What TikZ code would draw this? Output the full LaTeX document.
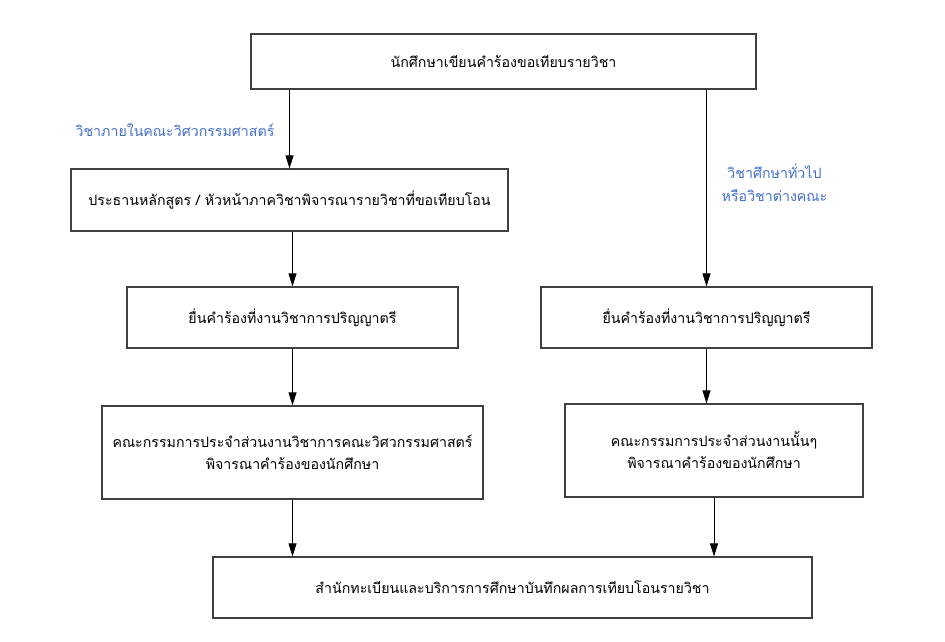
\documentclass[tikz,border=0pt]{standalone}
\usepackage{fontspec}
\newfontfamily\thaifont[Script=Thai]{Loma}
\usetikzlibrary{arrows.meta}
\definecolor{branchblue}{RGB}{68,110,205}
\tikzset{
  stepbox/.style={draw=black!75,line width=1.2pt,align=center,inner sep=2pt,
    font=\thaifont\fontsize{14.2}{22}\selectfont},
  flow/.style={draw=black,line width=0.8pt,-{Triangle[length=13pt,width=8pt]}},
  branch/.style={text=branchblue,align=center,
    font=\thaifont\fontsize{14.2}{23}\selectfont}
}
\begin{document}
\begin{tikzpicture}[x=1pt,y=-1pt]
\useasboundingbox (0,0) rectangle (945,642);
% boxes
\node[stepbox,minimum width=505pt,minimum height=55pt] (request) at (503.5,61.5) {นักศึกษาเขียนคำร้องขอเทียบรายวิชา};
\node[stepbox,minimum width=437pt,minimum height=62pt] (chair) at (289.5,200) {ประธานหลักสูตร / หัวหน้าภาควิชาพิจารณารายวิชาที่ขอเทียบโอน};
\node[stepbox,minimum width=331pt,minimum height=61pt] (submitL) at (292.5,317.5) {ยื่นคำร้องที่งานวิชาการปริญญาตรี};
\node[stepbox,minimum width=331pt,minimum height=61pt] (submitR) at (706.5,317.5) {ยื่นคำร้องที่งานวิชาการปริญญาตรี};
\node[stepbox,minimum width=381pt,minimum height=93pt] (boardL) at (292.5,452.5) {คณะกรรมการประจำส่วนงานวิชาการคณะวิศวกรรมศาสตร์\\พิจารณาคำร้องของนักศึกษา};
\node[stepbox,minimum width=298pt,minimum height=93pt] (boardR) at (714,450.5) {คณะกรรมการประจำส่วนงานนั้นๆ\\พิจารณาคำร้องของนักศึกษา};
\node[stepbox,minimum width=599pt,minimum height=61pt] (record) at (512.5,587.5) {สำนักทะเบียนและบริการการศึกษาบันทึกผลการเทียบโอนรายวิชา};
% branch labels
\node[branch] (inside) at (175,130) {วิชาภายในคณะวิศวกรรมศาสตร์};
\node[branch] (outside) at (774.5,183) {วิชาศึกษาทั่วไป\\หรือวิชาต่างคณะ};
% arrows
\draw[flow] (request.south -| chair.north) -- (chair.north);
\draw[flow] (request.south -| submitR.north) -- (submitR.north);
\draw[flow] (chair.south -| submitL.north) -- (submitL.north);
\draw[flow] (submitL.south) -- (submitL.south |- boardL.north);
\draw[flow] (submitR.south) -- (submitR.south |- boardR.north);
\draw[flow] (boardL.south) -- (boardL.south |- record.north);
\draw[flow] (boardR.south) -- (boardR.south |- record.north);
\end{tikzpicture}
\end{document}
